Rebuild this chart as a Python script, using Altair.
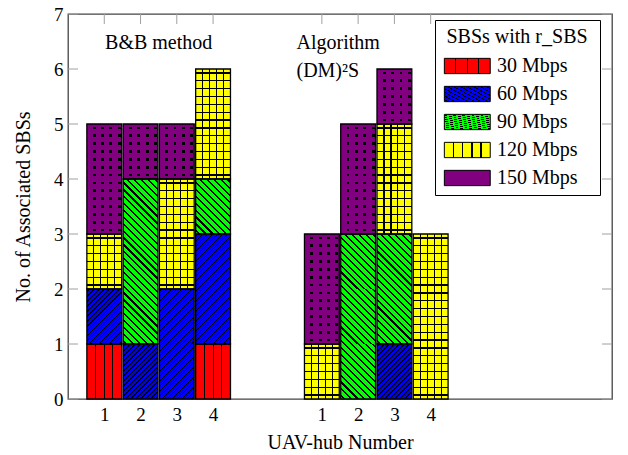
import json
import pandas as pd
import altair as alt

# ---------------- data ----------------
categories = ["30 Mbps", "60 Mbps", "90 Mbps", "120 Mbps", "150 Mbps"]
methods = ["B&B method", "Algorithm (DM)²S"]
hubs = [1, 2, 3, 4]

bb_30 = [1, 0, 0, 1]
bb_60 = [1, 1, 2, 2]
bb_90 = [0, 3, 0, 1]
bb_120 = [1, 0, 2, 2]
bb_150 = [2, 1, 1, 0]

alg_30 = [0, 0, 0, 0]
alg_60 = [0, 0, 1, 0]
alg_90 = [0, 3, 2, 0]
alg_120 = [1, 0, 2, 3]
alg_150 = [2, 2, 1, 0]

y_ticks = [0, 1, 2, 3, 4, 5, 6, 7]

ann_text = ["B&B method", "Algorithm", "(DM)²S"]
ann_x = [2.5, 6.3, 6.3]
ann_y = [6.37, 6.37, 5.86]
ann_align = ["center", "left", "left"]

# ---------------- layout / style ----------------
W, H = 544, 385
HB = 0.48                      # half bar width (x units)
group_slot = {methods[0]: 0, methods[1]: 6}
FONT = "Liberation Serif, Times New Roman, DejaVu Serif, serif"
colors = ["#ff0000", "#0000ff", "#00ff00", "#ffff00", "#800080"]
BLACK = "#000000"
CLEAR = "rgba(0,0,0,0)"

counts = {
    methods[0]: [bb_30, bb_60, bb_90, bb_120, bb_150],
    methods[1]: [alg_30, alg_60, alg_90, alg_120, alg_150],
}

segments, cells = [], []
for m in methods:
    for i, h in enumerate(hubs):
        base = 0
        for ci, cat in enumerate(categories):
            c = counts[m][ci][i]
            if c > 0:
                pos = h + group_slot[m]
                segments.append(dict(pos=pos, cat=cat, y0=base, y1=base + c))
                for u in range(c):
                    cells.append(dict(pos=pos, cat=cat, y0=base + u, y1=base + u + 1))
                base += c
seg_df = pd.DataFrame(segments)
cell_df = pd.DataFrame(cells)
xtick_df = pd.DataFrame({"p": [h + group_slot[m] for m in methods for h in hubs]})
ytick_df = pd.DataFrame({"v": y_ticks})
ann_df = pd.DataFrame({"t": ann_text, "x": ann_x, "y": ann_y, "a": ann_align})

# pixel size of a unit cell (for pattern geometry)
cw = 2 * HB * W / 15.0
ch = H / 7.0
ar = cw / ch
kk = (ar + 1) / (ar * ar + 1)


def stripes(base, line, centers, hw, x1, y1, x2, y2):
    stops = [{"offset": 0, "color": base}]
    for c in centers:
        a = max(0.0, c - hw)
        b = min(1.0, c + hw)
        stops += [{"offset": round(a, 4), "color": base},
                  {"offset": round(a, 4), "color": line},
                  {"offset": round(b, 4), "color": line},
                  {"offset": round(b, 4), "color": base}]
    stops.append({"offset": 1, "color": base})
    return {"gradient": "linear", "x1": x1, "y1": y1, "x2": x2, "y2": y2, "stops": stops}


n_blue, n_green = 18, 13
g_red = stripes(colors[0], BLACK, [0.25, 0.5, 0.75], 0.5 / cw, 0, 0, 1, 0)
g_blue = stripes(colors[1], BLACK, [(i + 0.5) / n_blue for i in range(n_blue)], 0.008, 0, 0, round(ar * kk, 4), round(kk, 4))
g_green = stripes(colors[2], BLACK, [(i + 0.5) / n_green for i in range(n_green)], 0.012, 1, 0, round(1 - ar * kk, 4), round(kk, 4))
g_yel_v = stripes(colors[3], BLACK, [0.2, 0.4, 0.6, 0.8], 0.6 / cw, 0, 0, 1, 0)
g_yel_h = stripes(CLEAR, BLACK, [(i + 0.5) / 7 for i in range(7)], 0.6 / ch, 0, 0, 0, 1)
g_pur_v = stripes(CLEAR, BLACK, [0.21, 0.45, 0.69, 0.93], 1.4 / cw, 0, 0, 1, 0)
g_pur_h = stripes(colors[4], CLEAR, [(i + 0.5) / 7 for i in range(7)], 1.4 / ch, 0, 0, 0, 1)

fill_range = [{"expr": json.dumps(g)} for g in [g_red, g_blue, g_green, g_yel_v]] + [colors[4]]

xscale = alt.Scale(domain=[0, 15], nice=False, zero=False)
yscale = alt.Scale(domain=[0, 7], nice=False, zero=True)
XT = "UAV-hub Number"
YT = "No. of Associated SBSs"

xaxis = alt.Axis(values=xtick_df["p"].tolist(), labelExpr="datum.value > 5 ? datum.value - 6 : datum.value",
                 ticks=False, domain=False, grid=False, labelFont=FONT, labelFontSize=19, labelColor="black",
                 labelPadding=6, titleFont=FONT, titleFontSize=20, titleFontWeight="normal", titleColor="black",
                 titlePadding=8)
yaxis = alt.Axis(values=y_ticks, ticks=False, domain=False, grid=False, labelFont=FONT, labelFontSize=19,
                 labelColor="black", labelPadding=5, titleFont=FONT, titleFontSize=20, titleFontWeight="normal",
                 titleColor="black", titlePadding=20)

legend = alt.Legend(title="SBSs with r_SBS", orient="none", legendX=367, legendY=6,
                    padding=7, strokeColor="black", fillColor="white", cornerRadius=0,
                    symbolType="M-1,-1H5V1H-1Z", symbolSize=234, symbolStrokeColor="black",
                    symbolStrokeWidth=1, symbolOpacity=1,
                    labelFont=FONT, labelFontSize=20, labelColor="black", labelOffset=35,
                    labelExpr="datum.label + '\u2800'",
                    titleFont=FONT, titleFontSize=20, titleFontWeight="normal", titleColor="black",
                    titleAnchor="middle", titlePadding=9, rowPadding=8)


def cell_chart(df):
    return alt.Chart(df).transform_calculate(xa=f"datum.pos - {HB}", xb=f"datum.pos + {HB}")


def enc_xy():
    return dict(x=alt.X("xa:Q", scale=xscale, axis=xaxis, title=XT), x2="xb:Q",
                y=alt.Y("y0:Q", scale=yscale, axis=yaxis, title=YT), y2="y1:Q")


TICK = "#a0a0a0"
t_left = alt.Chart(ytick_df).mark_rule(color=TICK, strokeWidth=1).encode(
    y=alt.Y("v:Q", scale=yscale, axis=yaxis, title=YT), x=alt.value(0), x2=alt.value(10))
t_right = alt.Chart(ytick_df).mark_rule(color=TICK, strokeWidth=1).encode(
    y=alt.Y("v:Q", scale=yscale, axis=yaxis, title=YT), x=alt.value(W - 10), x2=alt.value(W))
t_top = alt.Chart(xtick_df).mark_rule(color=TICK, strokeWidth=1).encode(
    x=alt.X("p:Q", scale=xscale, axis=xaxis, title=XT), y=alt.value(0), y2=alt.value(10))
t_bot = alt.Chart(xtick_df).mark_rule(color=TICK, strokeWidth=1).encode(
    x=alt.X("p:Q", scale=xscale, axis=xaxis, title=XT), y=alt.value(H - 10), y2=alt.value(H))

base = cell_chart(cell_df).mark_rect(strokeWidth=0).encode(
    fill=alt.Fill("cat:N", scale=alt.Scale(domain=categories, range=fill_range), legend=legend, sort=categories),
    **enc_xy())


def overlay(cat, grad):
    return cell_chart(cell_df).transform_filter(alt.datum.cat == cat).mark_rect(
        strokeWidth=0, fill=grad).encode(**enc_xy())


ov_yel = overlay(categories[3], g_yel_h)
ov_pur_v = overlay(categories[4], g_pur_v)
ov_pur_h = overlay(categories[4], g_pur_h)

outline = alt.Chart(seg_df).transform_calculate(xa=f"datum.pos - {HB}", xb=f"datum.pos + {HB}").mark_rect(
    fillOpacity=0, stroke="black", strokeWidth=1.3).encode(**enc_xy())

text_bb = alt.Chart(ann_df).transform_filter(alt.datum.a == "center").mark_text(
    font=FONT, fontSize=20, baseline="alphabetic", align="center", color="black").encode(
    x=alt.X("x:Q", scale=xscale, axis=xaxis, title=XT),
    y=alt.Y("y:Q", scale=yscale, axis=yaxis, title=YT), text="t:N")
text_alg = alt.Chart(ann_df).transform_filter(alt.datum.a == "left").mark_text(
    font=FONT, fontSize=20, baseline="alphabetic", align="left", color="black").encode(
    x=alt.X("x:Q", scale=xscale, axis=xaxis, title=XT),
    y=alt.Y("y:Q", scale=yscale, axis=yaxis, title=YT), text="t:N")

chart = alt.layer(
    t_left, t_right, t_top, t_bot, base, ov_yel, ov_pur_v, ov_pur_h, outline, text_bb, text_alg
).properties(
    width=W, height=H, padding={"left": 5, "top": -3, "right": 5, "bottom": 0}
).configure_view(stroke="#444444", strokeWidth=1.3)

chart.save("out.html", embed_options={"renderer": "svg", "actions": False})
